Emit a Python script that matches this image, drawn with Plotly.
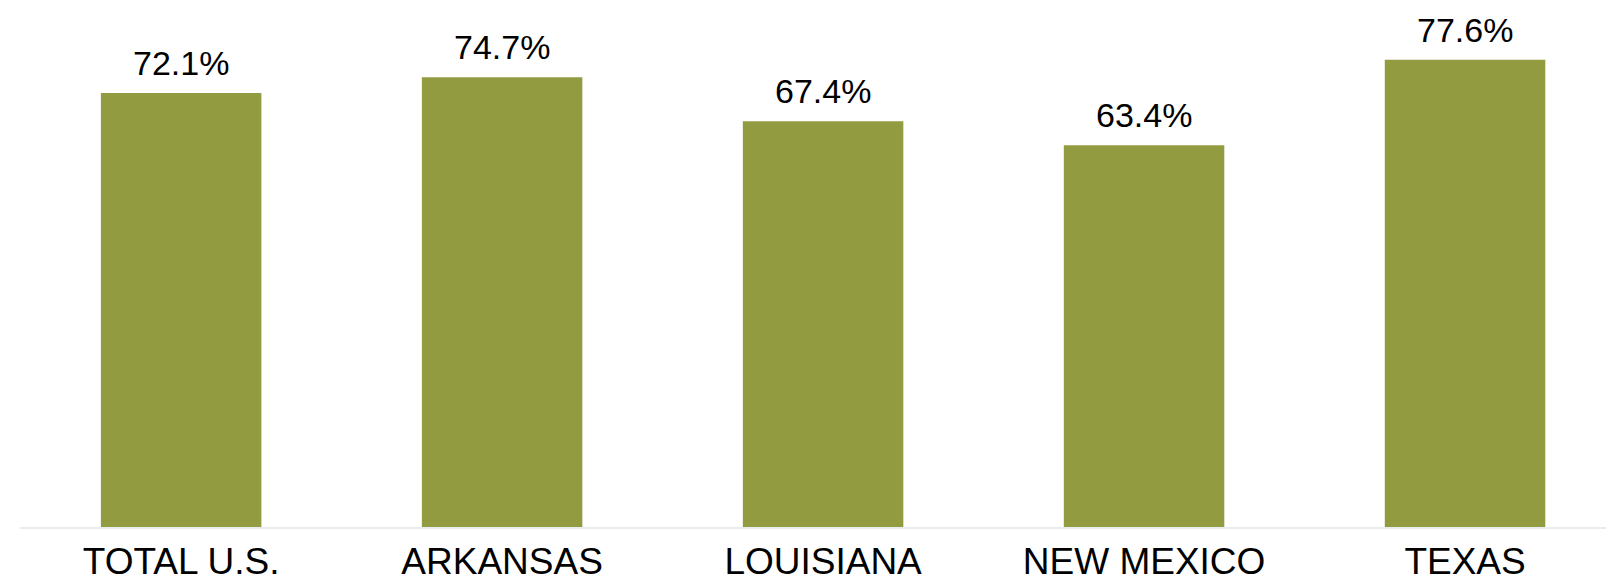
import plotly.graph_objects as go

categories = ["TOTAL U.S.", "ARKANSAS", "LOUISIANA", "NEW MEXICO", "TEXAS"]
values = [72.1, 74.7, 67.4, 63.4, 77.6]
labels = [f"{v:.1f}%" for v in values]

fig = go.Figure(
    go.Bar(
        x=categories,
        y=values,
        marker=dict(color="#939B41", line=dict(width=0)),
        cliponaxis=False,
    )
)

for c, v, t in zip(categories, values, labels):
    fig.add_annotation(
        x=c, y=v, text=t, showarrow=False,
        xanchor="center", yanchor="bottom", yshift=9,
        font=dict(family="Liberation Sans, Arial", size=34, color="#000000"),
    )

fig.update_layout(
    width=1614,
    height=584,
    margin=dict(l=12, r=0, t=0, b=65, autoexpand=False),
    paper_bgcolor="white",
    plot_bgcolor="white",
    bargap=0.5,
    showlegend=False,
    font=dict(family="Liberation Sans, Arial", color="#000000"),
)
fig.update_xaxes(
    range=[-0.502, 4.489],
    automargin=False,
    showline=True,
    linecolor="#E8ECF0",
    linewidth=2,
    showgrid=False,
    ticks="",
    tickfont=dict(size=37, color="#000000"),
    ticklabelstandoff=1,
)
fig.update_yaxes(
    range=[0, 86.2],
    visible=False,
    showgrid=False,
    zeroline=False,
    automargin=False,
)

fig.write_html("out.html")
